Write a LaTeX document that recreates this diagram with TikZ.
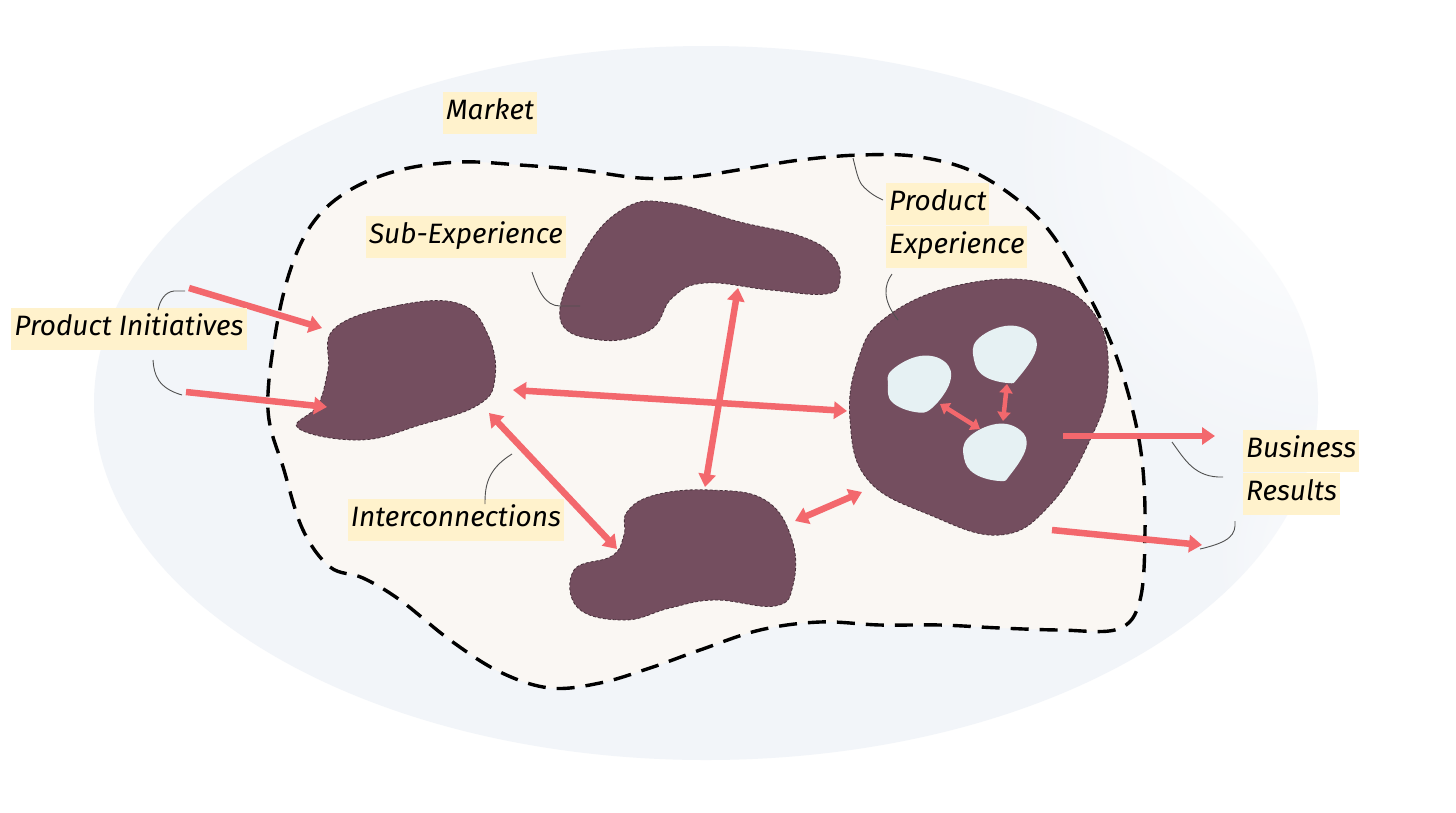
\documentclass[tikz,border=0pt]{standalone}
\usepackage{fontspec}
\newfontfamily\handfont{Fira Sans}
\usetikzlibrary{positioning}
\usetikzlibrary{arrows.meta}
\usetikzlibrary{fadings}
\definecolor{marketbg}{HTML}{F2F5F9}
\definecolor{prodbg}{HTML}{FAF7F3}
\definecolor{subexp}{HTML}{744E5F}
\definecolor{cellbg}{HTML}{E6F1F3}
\definecolor{arrowred}{HTML}{F3686D}
\definecolor{notebg}{HTML}{FFF2CC}
\definecolor{leadgray}{HTML}{505050}
\tikzfading[name=softspot, inner color=transparent!0, outer color=transparent!100]

\begin{document}
\begin{tikzpicture}[
    x=1pt, y=-1pt,
    tag/.style={fill=notebg, inner xsep=3pt, inner ysep=0pt, minimum height=42pt, text height=20pt, text depth=7pt, font=\handfont\itshape\fontsize{28}{30}\selectfont},
    blob/.style={fill=subexp, draw=subexp!60!black, densely dashed, line width=0.8pt},
    cell/.style={fill=cellbg},
    link/.style={draw=arrowred, line width=6.5pt},
    minilink/.style={draw=arrowred, line width=4.5pt, >={Triangle[length=9pt,width=13pt]}},
    lead/.style={draw=leadgray, line width=0.9pt},
    >={Triangle[length=13pt,width=17pt]}
]
    \useasboundingbox (0,0) rectangle (1456,812);
    \fill[white] (0,0) rectangle (1456,812);

    % market
    \fill[marketbg] (706,403) ellipse [x radius=612pt, y radius=357pt];
    \fill[white, path fading=softspot] (1330,150) circle (330pt);
    \fill[white, path fading=softspot] (1380,560) circle (170pt);

    % product experience boundary
    \draw[fill=prodbg, line width=3.4pt, dash pattern=on 18pt off 11pt]
        plot[smooth cycle, tension=0.6] coordinates {
        (460,162) (520,165) (580,170) (640,178) (690,177) (750,168) (800,160)
        (860,155) (920,157) (980,175) (1040,220) (1080,280) (1110,340) (1130,400)
        (1142,460) (1145,530) (1140,600) (1118,629) (1060,630) (1000,628) (940,625)
        (880,625) (820,622) (760,630) (700,650) (650,668) (600,683) (550,688)
        (500,672) (450,640) (400,600) (363,578) (330,567) (303,530) (284,470)
        (268,410) (276,330) (292,265) (315,220) (350,190) (400,170)};

    % sub-experiences
    \draw[blob] plot[smooth cycle, tension=0.7] coordinates {
        (335,328) (400,305) (460,304) (488,335) (495,378) (478,405) (420,425)
        (360,440) (298,428) (318,405) (328,370)};
    \draw[blob] plot[smooth cycle, tension=0.7] coordinates {
        (560,318) (585,250) (625,208) (670,203) (740,222) (800,236) (832,255)
        (840,280) (826,294) (770,290) (705,283) (672,298) (650,330) (600,340)};
    \draw[blob] plot[smooth cycle, tension=0.7] coordinates {
        (627,512) (655,495) (710,490) (765,500) (792,540) (793,585) (775,606)
        (715,600) (670,608) (625,620) (578,608) (574,570) (612,556) (624,535)};
    \draw[blob] plot[smooth cycle, tension=0.7] coordinates {
        (885,318) (955,286) (1040,282) (1095,315) (1108,380) (1090,440)
        (1050,505) (1000,535) (930,515) (868,480) (850,420) (858,360)};

    % experience cells
    \fill[cell] plot[smooth cycle, tension=0.7] coordinates {
        (892,370) (920,356) (945,362) (950,382) (932,408) (915,412) (892,402) (888,385)};
    \fill[cell] plot[smooth cycle, tension=0.7] coordinates {
        (977,340) (1005,326) (1030,332) (1036,350) (1018,378) (1008,383) (984,376) (974,360)};
    \fill[cell] plot[smooth cycle, tension=0.7] coordinates {
        (968,438) (996,424) (1020,430) (1026,448) (1010,475) (1000,481) (975,474) (964,458)};

    % connector ends
    \coordinate (pi1) at (189,288);
    \coordinate (pi2) at (186,392);
    \coordinate (left1) at (322,328);
    \coordinate (left2) at (327,407);
    \coordinate (leftR) at (513,390);
    \coordinate (leftB) at (489,413);
    \coordinate (rightL) at (847,411);
    \coordinate (rightBL) at (862,492);
    \coordinate (topB) at (738,288);
    \coordinate (botT) at (705,487);
    \coordinate (botL) at (617,549);
    \coordinate (botR) at (795,521);
    \coordinate (rightO1) at (1063,436);
    \coordinate (rightO2) at (1052,530);
    \coordinate (br1) at (1215,436);
    \coordinate (br2) at (1202,545);
    \coordinate (cellA) at (940,404);
    \coordinate (cellB) at (1007,384);
    \coordinate (cellC1) at (980,429);
    \coordinate (cellC2) at (1003,421);

    % interconnections
    \draw[link, ->] (pi1) -- (left1);
    \draw[link, ->] (pi2) -- (left2);
    \draw[link, <->] (leftR) -- (rightL);
    \draw[link, <->] (topB) -- (botT);
    \draw[link, <->] (leftB) -- (botL);
    \draw[link, <->] (botR) -- (rightBL);
    \draw[link, ->] (rightO1) -- (br1);
    \draw[link, ->] (rightO2) -- (br2);
    \draw[minilink, <->] (cellA) -- (cellC1);
    \draw[minilink, <->] (cellB) -- (cellC2);

    % labels
    \node[tag] (market) at (490,113) {Market};
    \node[tag] (subexp) at (466,237) {Sub-Experience};
    \node[tag] (initiatives) at (129,329) {Product Initiatives};
    \node[tag] (links) at (456,520) {Interconnections};
    \node[tag, anchor=north west] (prodexp1) at (886,183) {Product};
    \node[tag, below=0pt of prodexp1.south west, anchor=north west] (prodexp2) {Experience};
    \node[tag, anchor=north west] (results1) at (1243,430) {Business};
    \node[tag, below=0pt of results1.south west, anchor=north west] (results2) {Results};

    % leaders
    \draw[lead] (185,291) -- (174,291) .. controls (165,292) and (160,300) .. (158,310);
    \draw[lead] (153,360) .. controls (154,375) and (158,388) .. (182,395);
    \draw[lead] (532,272) .. controls (538,290) and (545,306) .. (560,306) -- (580,306);
    \draw[lead] (853,158) .. controls (856,170) and (858,180) .. (862,185) .. controls (868,192) and (876,197) .. (883,200);
    \draw[lead] (892,274) .. controls (884,285) and (882,300) .. (898,320);
    \draw[lead] (485,504) .. controls (485,488) and (486,470) .. (512,454);
    \draw[lead] (1172,442) .. controls (1185,460) and (1195,478) .. (1223,477);
    \draw[lead] (1235,521) .. controls (1236,535) and (1230,542) .. (1200,549);
\end{tikzpicture}
\end{document}
